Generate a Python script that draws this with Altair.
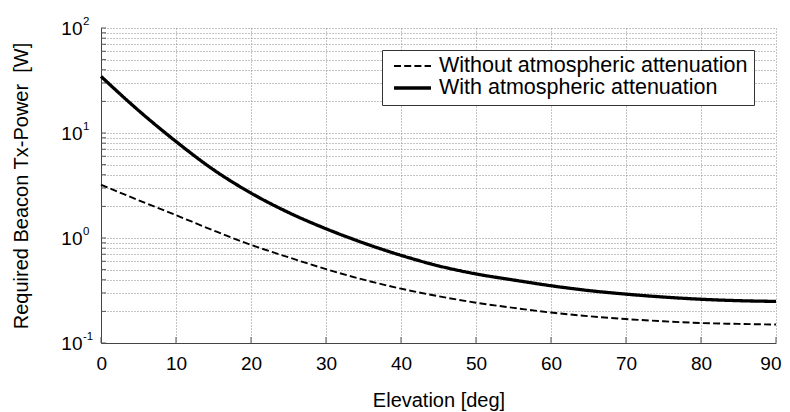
import altair as alt
import pandas as pd

FONT = "Liberation Sans"

# ---- data ----
elevation = [0, 5, 10, 15, 20, 25, 30, 35, 40, 45, 50, 55, 60, 65, 70, 75, 80, 85, 90]
without_att = [3.22, 2.29, 1.65, 1.18, 0.86, 0.655, 0.505, 0.401, 0.329, 0.279, 0.242,
               0.216, 0.195, 0.180, 0.169, 0.161, 0.155, 0.152, 0.150]
with_att = [34.6, 16.4, 8.3, 4.47, 2.68, 1.75, 1.225, 0.897, 0.684, 0.543, 0.455,
            0.398, 0.351, 0.316, 0.292, 0.274, 0.261, 0.253, 0.249]
series_names = ["Without atmospheric attenuation", "With atmospheric attenuation"]

x_ticks = [0, 10, 20, 30, 40, 50, 60, 70, 80, 90]
y_grid = [0.1, 0.2, 0.3, 0.4, 0.5, 0.6, 0.7, 0.8, 0.9,
          1, 2, 3, 4, 5, 6, 7, 8, 9,
          10, 20, 30, 40, 50, 60, 70, 80, 90, 100]
y_decades = [0.1, 1, 10, 100]
y_exponents = ["-1", "0", "1", "2"]

n = len(elevation)
df = pd.DataFrame({
    "elevation": elevation * 2,
    "power": without_att + with_att,
    "series": [series_names[0]] * n + [series_names[1]] * n,
})
exp_df = pd.DataFrame({"power": y_decades, "exp": y_exponents})
ytick_df = pd.DataFrame({"power": y_grid})
xtick_df = pd.DataFrame({"elevation": x_ticks})

x_scale = alt.Scale(domain=[0, 90], nice=False, zero=False)
y_scale = alt.Scale(type="log", domain=[0.1, 100], nice=False)

legend = alt.Legend(
    title=None, orient="none", legendX=281, legendY=22,
    fillColor="white", strokeColor="#333333", padding=6,
    labelFont=FONT, labelFontSize=21.5, labelColor="black", labelLimit=0,
    symbolType="stroke", symbolSize=1369, symbolStrokeColor="black",
    symbolOffset=4, labelOffset=6, rowPadding=0, clipHeight=20,
)

lines = alt.Chart(df).mark_line(color="black", interpolate="monotone").encode(
    x=alt.X("elevation:Q", scale=x_scale,
            axis=alt.Axis(values=x_ticks, title="Elevation [deg]", format="d",
                          labelPadding=11, labelFlush=True, labelFlushOffset=5,
                          titleY=47, titleBaseline="top")),
    y=alt.Y("power:Q", scale=y_scale,
            axis=alt.Axis(values=y_grid, title="Required Beacon Tx-Power\u00a0 [W]",
                          labelExpr="abs(log(datum.value)/LN10 - round(log(datum.value)/LN10)) < 0.001 ? '10' : ''",
                          labelPadding=19, titleX=-73.5, titleBaseline="alphabetic")),
    strokeDash=alt.StrokeDash("series:N", scale=alt.Scale(domain=series_names, range=[[7, 3.2], [1, 0]]),
                              legend=legend),
    strokeWidth=alt.StrokeWidth("series:N", scale=alt.Scale(domain=series_names, range=[1.9, 3.3]),
                                legend=legend),
)

exps = alt.Chart(exp_df).mark_text(
    align="left", baseline="alphabetic", font=FONT, fontSize=11.5, color="black", dy=-3
).encode(
    x=alt.value(-18),
    y=alt.Y("power:Q", scale=y_scale),
    text="exp:N",
)

left_ticks = alt.Chart(ytick_df).mark_rule(color="#555555", strokeWidth=1).encode(
    y=alt.Y("power:Q", scale=y_scale),
    x=alt.value(0), x2=alt.value(5),
)
bottom_ticks = alt.Chart(xtick_df).mark_rule(color="#555555", strokeWidth=1).encode(
    x=alt.X("elevation:Q", scale=x_scale),
    y=alt.value(315), y2=alt.value(309),
)

chart = alt.layer(left_ticks, bottom_ticks, exps, lines).properties(
    width=675, height=315,
    padding={"left": 93, "top": 20, "right": 6, "bottom": 69},
    autosize=alt.AutoSizeParams(type="none"),
    background="white",
).configure_view(stroke=None).configure_axis(
    domainColor="#444444", domainWidth=1,
    ticks=False, tickSize=0,
    grid=True, gridDash=[1, 2], gridColor="#8a8a8a", gridWidth=1,
    labelFont=FONT, labelFontSize=19, labelColor="black",
    titleFont=FONT, titleFontSize=20, titleFontWeight="normal", titleColor="black",
)

chart.save("out.html", embed_options={"renderer": "svg", "actions": False})
